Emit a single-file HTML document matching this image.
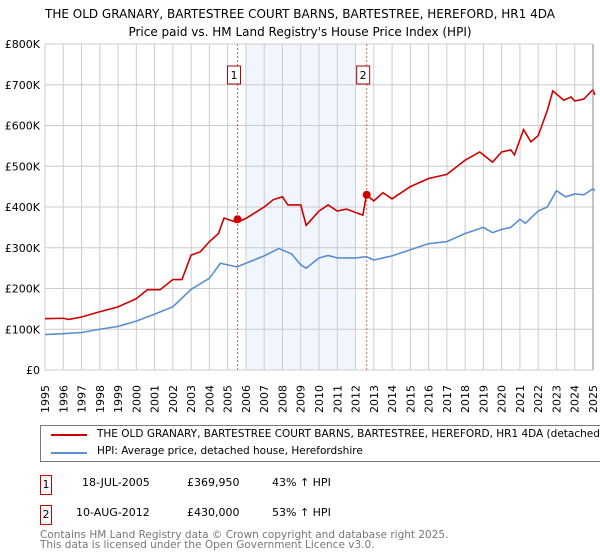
<!DOCTYPE html>
<html><head><meta charset="utf-8"><style>
body{margin:0;width:600px;height:560px;background:#fff;font-family:"DejaVu Sans","Liberation Sans",sans-serif;overflow:hidden;position:relative}
.t{position:absolute;white-space:nowrap}
</style></head><body>
<div class="t" style="left:0;width:600px;text-align:center;top:5px;font-size:12px;line-height:18px;color:#000">THE OLD GRANARY, BARTESTREE COURT BARNS, BARTESTREE, HEREFORD, HR1 4DA<br>Price paid vs. HM Land Registry's House Price Index (HPI)</div>
<svg id="chart" width="600" height="420" style="position:absolute;left:0;top:0" font-family="DejaVu Sans, Liberation Sans, sans-serif"></svg>
<div class="t" style="left:40px;top:425px;width:560px;height:35px;border:1px solid #777;border-right:none;font-size:10.5px;overflow:hidden">
 <div style="position:absolute;left:10px;top:8px;width:36px;height:2px;background:#cc0000"></div>
 <div class="t" style="left:56px;top:2px">THE OLD GRANARY, BARTESTREE COURT BARNS, BARTESTREE, HEREFORD, HR1 4DA (detached house)</div>
 <div style="position:absolute;left:10px;top:26px;width:36px;height:2px;background:#5b8fd0"></div>
 <div class="t" style="left:56px;top:19px">HPI: Average price, detached house, Herefordshire</div>
</div>
<div class="t" style="left:40px;top:475px;width:10px;height:18px;border:1px solid #cc0000;font-size:11px;text-align:center;line-height:18px">1</div>
<div class="t" style="left:82px;top:476px;font-size:11px">18-JUL-2005</div>
<div class="t" style="left:187px;top:476px;font-size:11px">£369,950</div>
<div class="t" style="left:272px;top:476px;font-size:11px">43% ↑ HPI</div>
<div class="t" style="left:40px;top:505px;width:10px;height:18px;border:1px solid #cc0000;font-size:11px;text-align:center;line-height:18px">2</div>
<div class="t" style="left:76px;top:506px;font-size:11px">10-AUG-2012</div>
<div class="t" style="left:187px;top:506px;font-size:11px">£430,000</div>
<div class="t" style="left:272px;top:506px;font-size:11px">53% ↑ HPI</div>
<div class="t" style="left:40px;top:530px;font-size:10.5px;line-height:10px;color:#777">Contains HM Land Registry data © Crown copyright and database right 2025.<br>This data is licensed under the Open Government Licence v3.0.</div>
<script>
const years=[1995,1996,1997,1998,1999,2000,2001,2002,2003,2004,2005,2006,2007,2008,2009,2010,2011,2012,2013,2014,2015,2016,2017,2018,2019,2020,2021,2022,2023,2024,2025];
const yTicks=[0,100,200,300,400,500,600,700,800];
const yTickLabels=["£0","£100K","£200K","£300K","£400K","£500K","£600K","£700K","£800K"];
const redX=[1995,1996,1996.3,1997,1998,1999,2000,2000.6,2001.3,2002,2002.5,2003,2003.5,2004,2004.5,2004.8,2005.5,2006,2007,2007.5,2008,2008.3,2009,2009.3,2010,2010.5,2011,2011.5,2012.4,2012.6,2013,2013.5,2014,2015,2016,2017,2018,2018.8,2019.5,2020,2020.5,2020.7,2021.2,2021.6,2022,2022.5,2022.8,2023.4,2023.8,2024,2024.5,2025,2025.1];
const redY=[126,127,124,130,143,155,175,197,197,222,222,282,290,315,335,373,362,372,400,418,425,405,405,355,390,405,390,395,380,430,415,435,420,450,470,480,515,535,510,535,540,528,590,560,575,637,685,662,670,660,665,688,675];
const hpiX=[1995,1996,1997,1998,1999,2000,2001,2002,2003,2004,2004.6,2005.5,2006,2007,2007.8,2008.5,2009,2009.3,2010,2010.5,2011,2012,2012.6,2013,2014,2015,2016,2017,2018,2019,2019.5,2020,2020.5,2021,2021.3,2022,2022.5,2023,2023.5,2024,2024.5,2025,2025.1];
const hpiY=[87,89,92,100,107,120,137,155,198,225,262,253,262,280,298,285,258,250,275,281,275,275,278,270,280,295,310,315,335,350,337,345,350,370,360,390,400,440,425,432,430,445,440];
const sales=[[2005.54,369.95,"1"],[2012.61,430,"2"]];
const L=45,R=593,T=44,B=370,NS="http://www.w3.org/2000/svg";
const X=v=>L+(v-1995)/30*(R-L), Y=v=>B-v/800*(B-T);
const svg=document.getElementById('chart');
function mk(tag,attrs){const e=document.createElementNS(NS,tag);for(const k in attrs)e.setAttribute(k,attrs[k]);svg.appendChild(e);return e;}
let sh=mk('rect',{x:X(2006),y:T,width:X(2012)-X(2006),height:B-T,fill:'#eef3fd',opacity:0.8});


years.forEach(y=>{let g=mk('line',{x1:X(y),x2:X(y),y1:T,y2:B,stroke:'#ccc','stroke-width':1});


let t=mk('text',{x:0,y:0,'font-size':11,transform:`translate(${X(y)+4},${B+43}) rotate(-90)`});t.textContent=y;

});
yTicks.forEach((v,i)=>{let g=mk('line',{x1:L,x2:R,y1:Y(v),y2:Y(v),stroke:'#ccc','stroke-width':1});


let t=mk('text',{x:L-5,y:Y(v)+4,'font-size':11,'text-anchor':'end'});t.textContent=yTickLabels[i];

});
sales.forEach(s=>{let l=mk('line',{x1:X(s[0]),x2:X(s[0]),y1:T,y2:B,stroke:'#e06060','stroke-dasharray':'2,2','stroke-width':1});


let r=mk('rect',{x:X(s[0])-10,y:T+22,width:13,height:18,fill:'#fff',stroke:'#aa0000'});


let t=mk('text',{x:X(s[0])-3.5,y:T+35,'font-size':11,'text-anchor':'middle'});t.textContent=s[2];

});
let hp=mk('polyline',{points:hpiX.map((x,i)=>X(x)+','+Y(hpiY[i])).join(' '),fill:'none',stroke:'#5b8fd0','stroke-width':1.6});


let rp=mk('polyline',{points:redX.map((x,i)=>X(x)+','+Y(redY[i])).join(' '),fill:'none',stroke:'#cc0000','stroke-width':1.6});


sales.forEach(s=>{let c=mk('circle',{cx:X(s[0]),cy:Y(s[1]),r:4,fill:'#cc0000'});

});
let ax=mk('line',{x1:R,x2:R,y1:T,y2:B,stroke:'#888'});


</script>
</body></html>
